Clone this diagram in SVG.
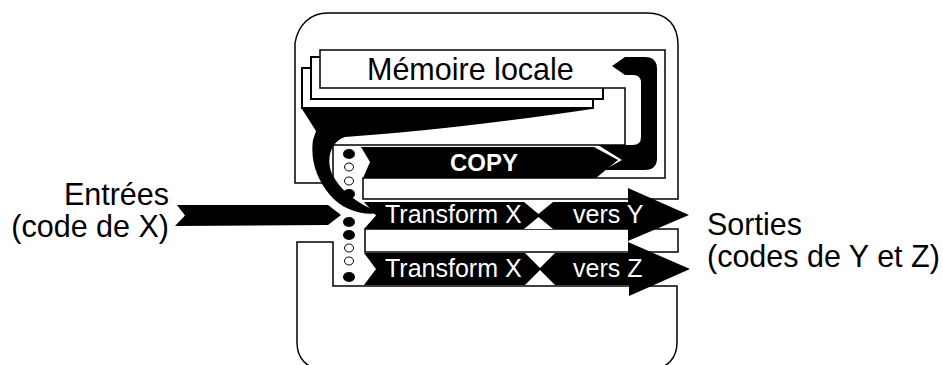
<svg xmlns="http://www.w3.org/2000/svg" width="943" height="365" viewBox="0 0 943 365">
<style>
.ln{fill:none;stroke:#000;stroke-width:1.5;stroke-linejoin:miter}
.box{fill:#fff;stroke:#000;stroke-width:2}
.blk{fill:#000;stroke:none}
.wht{fill:#fff;stroke:none}
.lbl{font-family:"Liberation Sans",Arial,sans-serif;font-size:30.5px;fill:#000}
.wt{font-family:"Liberation Sans",Arial,sans-serif;font-size:25px;fill:#fff}
.cp{font-family:"Liberation Sans",Arial,sans-serif;font-size:24px;font-weight:bold;fill:#fff}
.df{fill:#000;stroke:none}
.dh{fill:#fff;stroke:#000;stroke-width:1}
</style>
<rect width="943" height="365" fill="#fff"/>
<g id="chip">
  <rect x="302" y="68" width="291" height="40" class="box"/>
  <rect x="311" y="57" width="292" height="42" class="box"/>
  <rect x="320" y="50" width="345" height="38" class="wht"/>
  <path class="ln" d="M295 43 C298 25 310 13 328 13 L647 13 C667 13 678 25 678 45 L678 199 L363 199 L363 178 L665 178 L665 50 L320 50 L320 88 L625 88 L625 145 L333 145 L333 183 L295 183 Z"/>
  <path class="ln" d="M297 242 L333 242 L333 286 L677 286 L677 342 C677 358 668 369 650 369 L324 369 C306 369 297 358 297 342 Z"/>
  <rect x="365" y="229" width="313" height="23" class="ln"/>
</g>
<g id="memoire">
  <text x="367" y="80" class="lbl">Mémoire locale</text>
</g>
<g id="connectors">
  <path id="funnel" class="blk" d="M302 109 L592 109 Q450 130 345 137 C330 142 326 160 332 174 C340 190 356 203 380 213 C362 216 343 210 330 195 C317 180 310 160 313 140 L316 131 Z"/>
  <polygon id="entrees-arrow" class="blk" points="177,205 328,205 341,215 328,225 175,226 185,215.5"/>
  <path id="u-return" class="blk" d="M612 66 L625 57 L645 57 Q657 57 657 69 L657 158 Q657 170 645 170 L604 170 L622 160 L598 145 L633 145 Q641 145 641 137 L641 83 Q641 75 633 75 L625 75 Z"/>
</g>
<g id="copy">
  <polygon class="blk" points="361,147 594,147 618,160 596,178 363,178 370,162"/>
  <text x="484" y="171" class="cp" text-anchor="middle">COPY</text>
</g>
<g id="lane-y">
  <polygon class="blk" points="364,202 628,202 628,188 689,215 628,241 628,229 364,229 376,215.5"/>
  <polygon class="wht" points="524,202 553,202 538.5,214"/>
  <polygon class="wht" points="524,229 553,229 538.5,217"/>
  <text x="385" y="223" class="wt">Transform X</text>
  <text x="573" y="223" class="wt">vers Y</text>
</g>
<g id="lane-z">
  <polygon class="blk" points="364,253 628,253 628,242 690,269 629,296 629,285 364,285 376,269"/>
  <polygon class="wht" points="525,253 555,253 540,268"/>
  <polygon class="wht" points="525,285 555,285 540,270"/>
  <text x="385" y="277" class="wt">Transform X</text>
  <text x="573" y="277" class="wt">vers Z</text>
</g>
<g id="selecteur">
  <ellipse cx="349" cy="154" rx="6" ry="5" class="df"/>
  <ellipse cx="349" cy="167" rx="4.5" ry="4" class="dh"/>
  <ellipse cx="349" cy="181" rx="4.5" ry="4" class="dh"/>
  <ellipse cx="349" cy="194" rx="6" ry="5" class="df"/>
  <ellipse cx="349" cy="222" rx="6" ry="5" class="df"/>
  <ellipse cx="349" cy="235" rx="6" ry="5" class="df"/>
  <ellipse cx="349" cy="248" rx="4.5" ry="4" class="dh"/>
  <ellipse cx="349" cy="261" rx="4.5" ry="4" class="dh"/>
  <ellipse cx="349" cy="277" rx="6" ry="5" class="df"/>
</g>
<g id="entrees">
  <text x="169" y="205" class="lbl" text-anchor="end">Entrées</text>
  <text x="169" y="237" class="lbl" text-anchor="end">(code de X)</text>
</g>
<g id="sorties">
  <text x="707" y="235" class="lbl">Sorties</text>
  <text x="707" y="267" class="lbl">(codes de Y et Z)</text>
</g>
</svg>
